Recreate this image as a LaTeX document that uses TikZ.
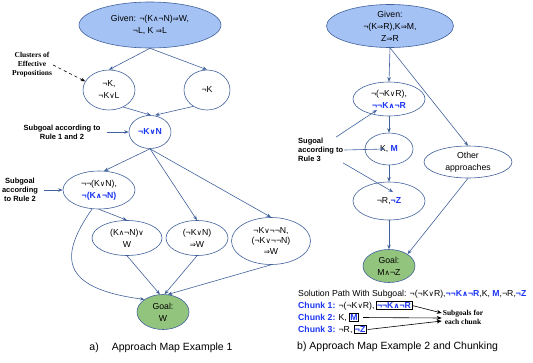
\documentclass[tikz,border=0pt]{standalone}
\usepackage{fontspec}
\setmainfont{Liberation Sans}
\newfontfamily\labelserif{Liberation Serif}
\newfontfamily\symf[Scale=0.85]{DejaVu Sans}
\usetikzlibrary{shapes.geometric,arrows.meta,positioning}

\definecolor{givenblue}{HTML}{A4C2F4}
\definecolor{goalgreen}{HTML}{93C47D}
\definecolor{edgeblue}{HTML}{41619C}
\definecolor{subblue}{HTML}{1A35F5}

\newcommand{\myand}{{\symf ∧}}
\newcommand{\myor}{{\symf ∨}}
\newcommand{\myimp}{{\symf ⇒}}
\newcommand{\sg}[1]{\textcolor{subblue}{\bfseries #1}}

\begin{document}
\begin{tikzpicture}[x=1pt,y=-1pt]
		\tikzset{prop/.style = {shape=ellipse, draw=edgeblue, line width=0.6pt, align=center, inner sep=0pt, font=\fontsize{8.7}{12}\selectfont}}
		\tikzset{given/.style = {prop, fill=givenblue}}
		\tikzset{goal/.style = {prop, fill=goalgreen}}
		\tikzset{edge/.style = {draw=edgeblue, line width=0.6pt, -{Stealth[length=4.5pt,width=3.5pt]}}}
		\tikzset{labeledge/.style = {edge, shorten <=5pt}}
		\tikzset{sublabel/.style = {font=\fontsize{7.5}{9}\selectfont\bfseries, align=center, inner sep=1pt}}
		\tikzset{serifnote/.style = {font=\fontsize{7.5}{9}\selectfont\labelserif\bfseries, align=center, inner sep=1pt}}
		\tikzset{txt/.style = {font=\fontsize{8.7}{12}\selectfont, inner sep=0pt}}
		\tikzset{chunkbox/.style = {txt, draw=black, line width=0.7pt, inner sep=1pt}}
		\tikzset{blackedge/.style = {draw=black, line width=0.6pt, -{Stealth[length=5pt,width=4pt]}}}
		\tikzset{caption/.style = {font=\fontsize{10.5}{12}\selectfont, inner sep=0pt}}

		\useasboundingbox (0,0) rectangle (533,362);

		\node[given, minimum width=142pt, minimum height=46pt] (given) at (150,25) {Given: ¬(K\myand¬N)\myimp W,\\¬L, K \myimp L};
		\node[prop, minimum width=52pt, minimum height=40pt] (A1) at (109,90) {¬K,\\¬K\myor L};
		\node[prop, minimum width=46pt, minimum height=40pt] (A2) at (207,90) {¬K};
		\node[prop, minimum width=42pt, minimum height=33pt] (SG) at (150,132) {\sg{¬K\myor N}};
		\node[prop, minimum width=72pt, minimum height=38pt] (B) at (99,190) {¬¬(K\myor N),\\\sg{¬(K\myand¬N)}};
		\node[prop, minimum width=70pt, minimum height=35pt] (C1) at (127,238) {(K\myand¬N)\myor\\W};
		\node[prop, minimum width=62pt, minimum height=35pt] (C2) at (197,238) {(¬K\myor N)\\\myimp W};
		\node[prop, minimum width=79pt, minimum height=47pt, font=\fontsize{8.7}{10.5}\selectfont] (C3) at (271,241) {¬K\myor¬¬N,\\(¬K\myor¬¬N)\\\myimp W};
		\node[goal, minimum width=52pt, minimum height=35pt] (goal) at (163,312) {Goal:\\W};

		\node[serifnote] (clusters) at (32,65) {Clusters of\\Effective\\Propositions};
		\node[sublabel] (rule12) at (62,132) {Subgoal according to\\Rule 1 and 2};
		\node[sublabel] (rule2) at (20,190) {Subgoal\\according\\to Rule 2};

		\draw[edge] (given.south) -- (A1.north);
		\draw[edge] (given.south) -- (A2.north);
		\draw[edge] (A1.-50) -- ([xshift=1pt]SG.north);
		\draw[edge] (A2.-130) -- ([xshift=5pt]SG.north);
		\draw[edge] (SG.south) -- (B.75);
		\draw[edge] (SG.south) -- (C2.north);
		\draw[edge] (SG.south) -- (C3.north);
		\draw[edge] (B.south) -- (C1.north);
		\draw[edge] (B.-110) .. controls (60,255) and (58,288) .. (goal.north west);
		\draw[edge] (C1.south) -- (goal.100);
		\draw[edge] (C2.south) -- (goal.85);
		\draw[edge] (C3.south) -- (goal.75);
		\draw[draw=black, line width=0.6pt, dashed, -{Stealth[length=4.5pt,width=3.5pt]}] (clusters.east) -- (A1.160);
		\draw[labeledge] (rule12.east) -- (SG.west);
		\draw[labeledge] (rule2.east) -- (B.west);

		\node[given, minimum width=127pt, minimum height=43pt] (given2) at (390,26) {Given:\\¬(K\myimp R),K\myimp M,\\Z\myimp R};
		\node[prop, minimum width=72pt, minimum height=34pt] (D1) at (389,99) {¬(¬K\myor R),\\\sg{¬¬K\myand¬R}};
		\node[prop, minimum width=48pt, minimum height=32pt] (D2) at (389,149) {K, \sg{M}};
		\node[prop, minimum width=72pt, minimum height=38pt] (D3) at (389,201) {¬R,\sg{¬Z}};
		\node[goal, minimum width=52pt, minimum height=33pt] (goal2) at (389,266) {Goal:\\M\myand¬Z};
		\node[prop, minimum width=88pt, minimum height=32pt] (other) at (468,162) {Other\\approaches};
		\node[sublabel, align=left, anchor=west] (rule3) at (297,150) {Sugoal\\according to\\Rule 3};

		\draw[edge] (given2.south) -- (D1.north);
		\draw[edge] (D1.south) -- (D2.north);
		\draw[edge] (D2.south) -- (D3.north);
		\draw[edge] (D3.south) -- (goal2.north);
		\draw[edge] (given2.south) -- (other.north);
		\draw[edge] (other.south) -- (goal2.north east);
		\draw[edge] (rule3.40) -- ([xshift=-12pt,yshift=-11pt]D1.center);
		\draw[edge] (rule3.east) -- ([xshift=-4pt]D2.center);
		\draw[edge] (rule3.-30) -- ([xshift=4pt,yshift=9pt]D3.center);

		\node[txt, anchor=base west] (path) at (298,296) {Solution Path With Subgoal: ¬(¬K\myor R),\sg{¬¬K\myand¬R},K, \sg{M},¬R,\sg{¬Z}};
		\node[txt, anchor=base west] (chunk1) at (298,308.5) {\sg{Chunk 1:} ¬(¬K\myor R),};
		\node[chunkbox, base right=1pt of chunk1] (box1) {\sg{¬¬K\myand¬R}};
		\node[txt, anchor=base west] (chunk2) at (298,320.5) {\sg{Chunk 2:} K,};
		\node[chunkbox, base right=2pt of chunk2] (box2) {\sg{M}};
		\node[txt, anchor=base west] (chunk3) at (298,332.5) {\sg{Chunk 3:} ¬R,};
		\node[chunkbox, base right=1pt of chunk3] (box3) {\sg{¬Z}};
		\node[serifnote] (subgoals) at (463,317) {Subgoals for\\each chunk};

		\draw[blackedge] (box1.east) -- ([yshift=4pt]subgoals.west);
		\draw[blackedge] ([xshift=4pt]box2.east) -- ([yshift=-1pt]subgoals.west);
		\draw[blackedge] ([xshift=1pt]box3.east) -- ([yshift=-4pt]subgoals.west);

		\node[caption] (captionA) at (161,348) {a)\hspace{13pt}Approach Map Example 1};
		\node[caption, anchor=west] (captionB) at (297,347) {b) Approach Map Example 2 and Chunking};

	\end{tikzpicture}
\end{document}
